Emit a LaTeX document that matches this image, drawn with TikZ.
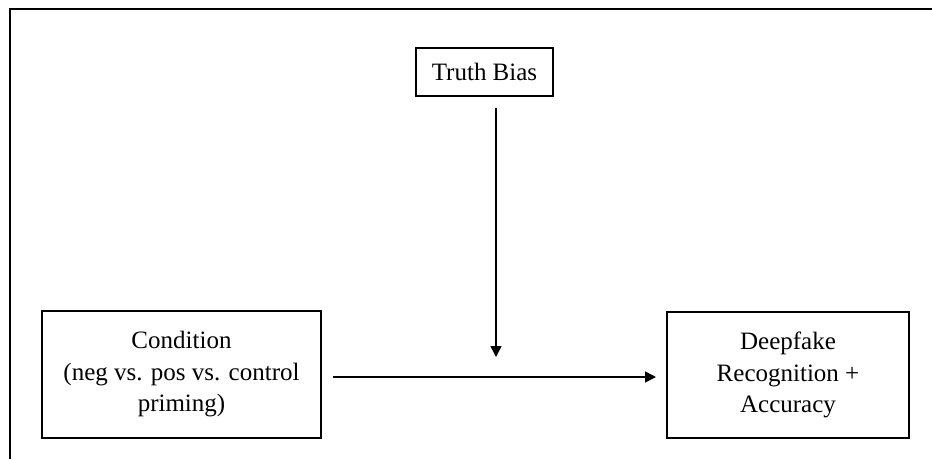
\documentclass[tikz,border=0pt]{standalone}
\usepackage{fontspec}
\setmainfont{Liberation Serif}
\usetikzlibrary{arrows.meta}
\begin{document}
\begin{tikzpicture}[x=1pt,y=-1pt,
  box/.style={draw=black,line width=1.6pt,align=center,inner sep=0pt,
    font=\fontsize{25}{31.5}\selectfont},
  conn/.style={line width=1.6pt,-{Triangle[length=11pt,width=11pt]}}]
\useasboundingbox (0,0) rectangle (932,459);
\draw[line width=1.8pt] (10,459) -- (10,9) -- (932,9);
\node[box,minimum width=137pt,minimum height=48pt] (tb) at (484.5,72) {Truth Bias};
\node[box,minimum width=279pt,minimum height=127pt] (cond) at (181.5,374.5)
  {Condition\\(neg vs. pos vs. control\\priming)};
\node[box,minimum width=242pt,minimum height=126pt] (deep) at (788,375)
  {Deepfake\\Recognition +\\Accuracy};
\coordinate (vs) at (496,108);
\coordinate (ve) at (496,357);
\coordinate (hs) at (333,377);
\coordinate (he) at (656,377);
\draw[conn] (vs) -- (ve);
\draw[conn] (hs) -- (he);
\end{tikzpicture}
\end{document}
